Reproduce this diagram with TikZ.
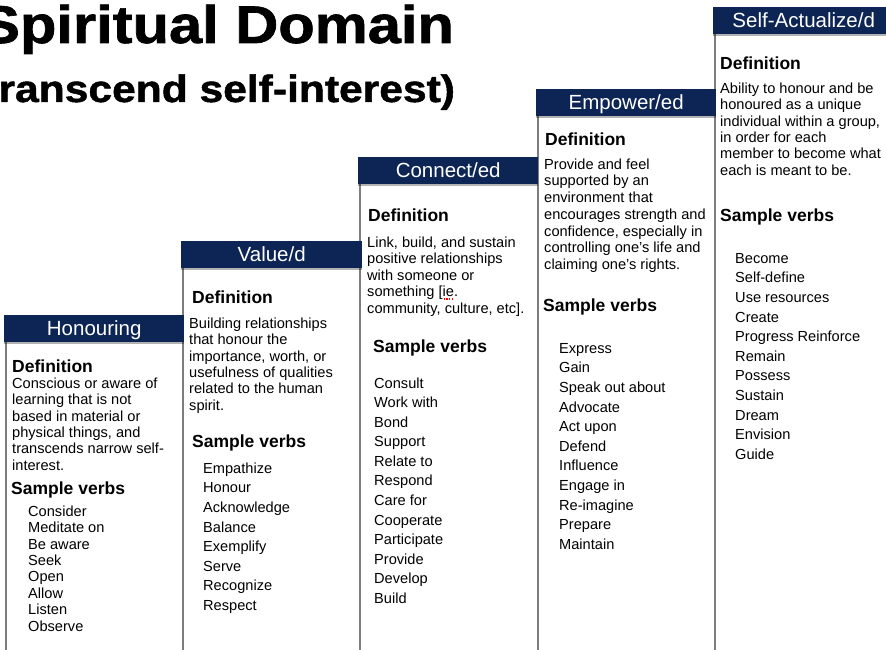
\documentclass[tikz,border=0pt]{standalone}
\usepackage{fontspec}
\setmainfont{Liberation Sans}
\newfontfamily\titlefont{Liberation Sans}[BoldFeatures={FakeBold=1.2}]
\usetikzlibrary{shadows}
\definecolor{barblue}{RGB}{12,37,84}
\definecolor{rulegray}{RGB}{125,125,125}
% fixed top for the first line of a block
\newcommand{\topstrut}{\rule{0pt}{14pt}}
% red spell-check dots under a word
\newcommand{\spellmark}[1]{\setbox0\hbox{#1}\rlap{\color{red}\xleaders\hbox to 2.6pt{\hss\rule[-3pt]{1.3pt}{1.3pt}\hss}\hskip\wd0}\box0}
\tikzset{
  bar/.style={fill=barblue, text=white, anchor=north west, inner xsep=0pt,
    minimum width=180pt, minimum height=27pt, inner ysep=2.5pt,
    text height=18pt, text depth=4pt, font=\fontsize{20.5}{24}\selectfont,
    drop shadow={shadow xshift=-0.5pt, shadow yshift=-1.5pt, fill=black, opacity=0.3}},
  colrule/.style={draw=rulegray, line width=1.8pt},
  head/.style={anchor=base west, inner sep=0pt, font=\bfseries\fontsize{17.5}{21}\selectfont},
  deftext/.style={anchor=north west, inner sep=0pt, align=left, font=\fontsize{14.6}{16.4}\selectfont},
  verbs/.style={deftext, font=\fontsize{14.6}{19.6}\selectfont},
  title/.style={anchor=base west, inner sep=0pt, font=\titlefont\bfseries},
}
\begin{document}
\begin{tikzpicture}[x=1pt, y=-1pt]
        \useasboundingbox (0,0) rectangle (886,650);
        \clip (0,0) rectangle (886,650);
        \coordinate (bottom) at (0,652);

        % the title
        \node[title] (ttl) at (-20,43) {\fontsize{53}{60}\selectfont\scalebox{1.125}[1]{Spiritual Domain}};
        \node[title] (sub) at (-30,102) {\fontsize{38}{44}\selectfont\scalebox{1.12}[1]{(transcend self-interest)}};

        % the header bars
        \path (4,315) coordinate (hon-c) (181,241) coordinate (val-c) (358,157) coordinate (con-c)
              (536,89) coordinate (emp-c) (713,7) coordinate (sel-c);

        % the column rules
        \foreach \c in {hon,val,con,emp,sel}
          \draw[colrule] ([xshift=2pt,yshift=-27pt]\c-c) -- ([xshift=2pt]\c-c |- bottom);

        \node[bar] (hon) at (hon-c) {Honouring};
        \node[bar, minimum width=181pt] (val) at (val-c) {Value/d};
        \node[bar] (con) at (con-c) {Connect/ed};
        \node[bar] (emp) at (emp-c) {Empower/ed};
        \node[bar, minimum width=181pt] (sel) at (sel-c) {Self-Actualize/d};

        % Honouring
        \node[head] (hon-d) at (12,372) {Definition};
        \node[deftext] (hon-t) at (12,374) {\topstrut Conscious or aware of\\learning that is not\\based in material or\\physical things, and\\transcends narrow self-\\interest.};
        \node[head] (hon-s) at (11,494) {Sample verbs};
        \node[deftext] (hon-v) at (28,502) {\topstrut Consider\\Meditate on\\Be aware\\Seek\\Open\\Allow\\Listen\\Observe};

        % Value/d
        \node[head] (val-d) at (192,303) {Definition};
        \node[deftext] (val-t) at (189,314) {\topstrut Building relationships\\that honour the\\importance, worth, or\\usefulness of qualities\\related to the human\\spirit.};
        \node[head] (val-s) at (192,447) {Sample verbs};
        \node[verbs] (val-v) at (203,459) {\topstrut Empathize\\Honour\\Acknowledge\\Balance\\Exemplify\\Serve\\Recognize\\Respect};

        % Connect/ed
        \node[head] (con-d) at (368,221) {Definition};
        \node[deftext, font=\fontsize{14.6}{16.5}\selectfont] (con-t) at (367,233) {\topstrut Link, build, and sustain\\positive relationships\\with someone or\\something [\spellmark{ie}.\\community, culture, etc].};
        \node[head] (con-s) at (373,352) {Sample verbs};
        \node[verbs, font=\fontsize{14.6}{19.55}\selectfont] (con-v) at (374,374) {\topstrut Consult\\Work with\\Bond\\Support\\Relate to\\Respond\\Care for\\Cooperate\\Participate\\Provide\\Develop\\Build};

        % Empower/ed
        \node[head] (emp-d) at (545,146) {Definition};
        \node[deftext, font=\fontsize{14.6}{16.7}\selectfont] (emp-t) at (544,155) {\topstrut Provide and feel\\supported by an\\environment that\\encourages strength and\\confidence, especially in\\controlling one’s life and\\claiming one’s rights.};
        \node[head] (emp-s) at (543,311) {Sample verbs};
        \node[verbs] (emp-v) at (559,339) {\topstrut Express\\Gain\\Speak out about\\Advocate\\Act upon\\Defend\\Influence\\Engage in\\Re-imagine\\Prepare\\Maintain};

        % Self-Actualize/d
        \node[head] (sel-d) at (720,70) {Definition};
        \node[deftext] (sel-t) at (720,79) {\topstrut Ability to honour and be\\honoured as a unique\\individual within a group,\\in order for each\\member to become what\\each is meant to be.};
        \node[head] (sel-s) at (720,221) {Sample verbs};
        \node[verbs] (sel-v) at (735,249) {\topstrut Become\\Self-define\\Use resources\\Create\\Progress Reinforce\\Remain\\Possess\\Sustain\\Dream\\Envision\\Guide};
\end{tikzpicture}
\end{document}
